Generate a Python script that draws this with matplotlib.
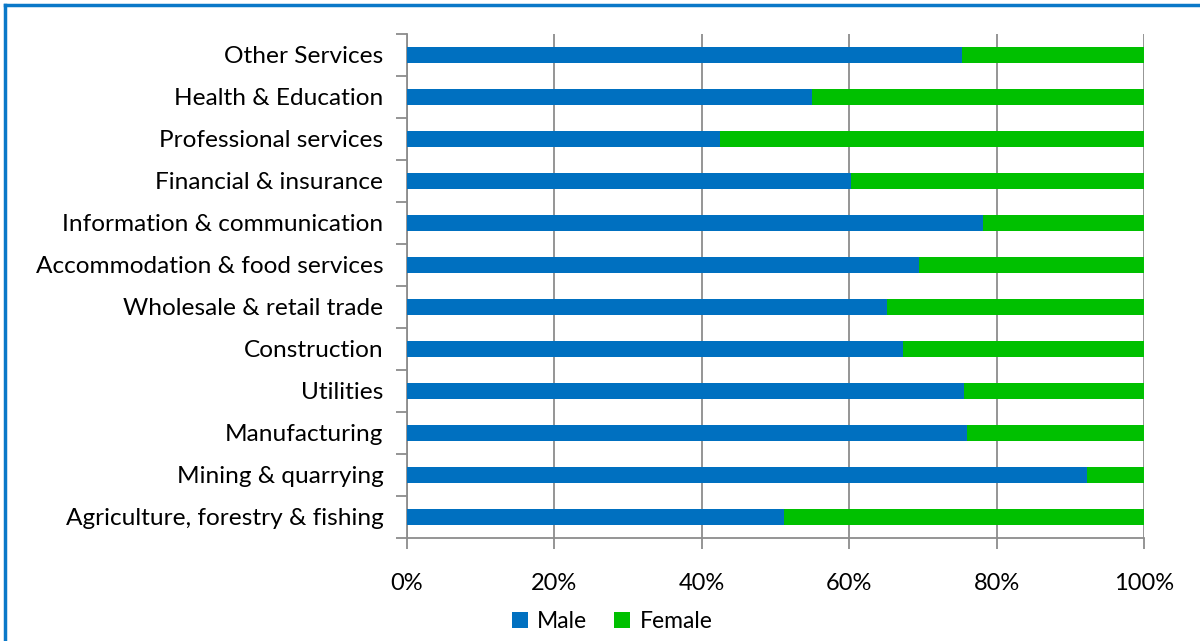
import matplotlib
matplotlib.use("Agg")
import matplotlib.pyplot as plt
from matplotlib.lines import Line2D
from matplotlib.patches import Patch
from matplotlib.ticker import FuncFormatter, MultipleLocator

plt.rcParams['font.family'] = ['Lato', 'DejaVu Sans']

sectors = [
    "Agriculture, forestry & fishing",
    "Mining & quarrying",
    "Manufacturing",
    "Utilities",
    "Construction",
    "Wholesale & retail trade",
    "Accommodation & food services",
    "Information & communication",
    "Financial & insurance",
    "Professional services",
    "Health & Education",
    "Other Services",
]
male_pct = [51.2, 92.2, 76.0, 75.6, 67.3, 65.1, 69.5, 78.1, 60.2, 42.5, 54.9, 75.3]
female_pct = [100 - m for m in male_pct]

blue = "#0070C0"
green = "#00C000"
grid_grey = "#8C8C8C"

fig = plt.figure(figsize=(12, 6.41), dpi=100)
ax = fig.add_axes([0.3392, 0.1607, 0.6142, 0.7863])

ypos = list(range(len(sectors)))
ax.barh(ypos, male_pct, height=0.4, color=blue, zorder=3)
ax.barh(ypos, female_pct, left=male_pct, height=0.4, color=green, zorder=3)

ax.set_xlim(0, 100)
ax.set_ylim(-0.5, len(sectors) - 0.5)
ax.xaxis.set_major_locator(MultipleLocator(20))
ax.xaxis.set_major_formatter(FuncFormatter(lambda v, p: f"{v:.0f}%"))
ax.grid(axis='x', color=grid_grey, linewidth=1.3, zorder=0)

ax.set_yticks(ypos)
ax.set_yticklabels(sectors)
# category separator ticks on the y axis
ax.set_yticks([i - 0.5 for i in range(len(sectors) + 1)], minor=True)
ax.tick_params(axis='y', which='major', length=0, pad=17, labelsize=17.6)
ax.tick_params(axis='y', which='minor', length=8, width=1.3, color=grid_grey)
ax.tick_params(axis='x', length=8, width=1.3, color=grid_grey, labelsize=17, pad=17)

for side in ['top', 'right']:
    ax.spines[side].set_visible(False)
for side in ['left', 'bottom']:
    ax.spines[side].set_color(grid_grey)
    ax.spines[side].set_linewidth(1.3)

handles = [Patch(facecolor=blue, label="Male"), Patch(facecolor=green, label="Female")]
fig.legend(handles=handles, loc='center', bbox_to_anchor=(0.51, 0.031), ncol=2,
           frameon=False, fontsize=16.5, handlelength=0.7, handleheight=0.7,
           handletextpad=0.4, columnspacing=1.2)

# outer chart border (left and top edges)
fig.add_artist(Line2D([0.0045, 0.0045], [0, 0.9925], color="#0A78C8", linewidth=2.5,
                      transform=fig.transFigure))
fig.add_artist(Line2D([0.0045, 1.0], [0.9925, 0.9925], color="#0A78C8", linewidth=2.5,
                      transform=fig.transFigure))

fig.savefig("out.png", dpi=100)
